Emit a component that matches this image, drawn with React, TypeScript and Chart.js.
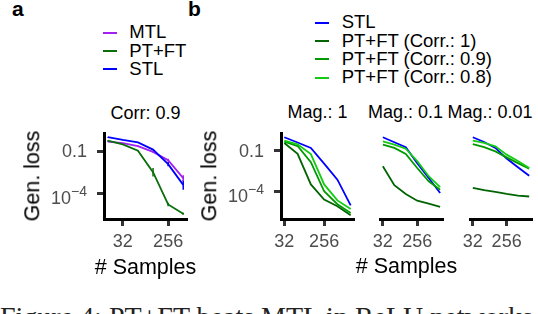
import React, { useEffect, useRef } from 'react';
import { Chart, registerables } from 'chart.js';

Chart.register(...registerables);

const SANS = '"Liberation Sans", Arial, Helvetica, sans-serif';
const SERIF = '"Liberation Serif", "Times New Roman", serif';

// ---------------- data ----------------
const SAMPLES_A = [16, 32, 64, 128, 256, 512];
const SAMPLES_B = [32, 64, 128, 256, 512, 1024];
const X_TICKS = [32, 256];
const Y_TICK_VALUES = [0.1, 1e-4];
const Y_TICK_BASE = ['0.1', '10'];
const Y_TICK_SUP = ['', '\u22124'];

// panel a (Corr: 0.9)
const A_MTL = [0.48, 0.38, 0.23, 0.089, 0.023, 0.0012];
const A_PTFT = [0.56, 0.31, 0.11, 0.0032, 1.6e-5, 3.5e-6];
const A_STL = [1.0, 0.63, 0.42, 0.13, 0.012, 0.0004];
// error bar half-widths (decades)
const A_MTL_ERR = [0.02, 0.02, 0.03, 0.05, 0.1, 0.2];
const A_PTFT_ERR = [0.02, 0.02, 0.05, 0.3, 0.12, 0.08];
const A_STL_ERR = [0.02, 0.02, 0.03, 0.05, 0.15, 0.35];

// panel b: Mag.: 1
const M1_STL = [0.98, 0.4, 0.16, 0.011, 0.00072, 9.1e-6];
const M1_C1 = [0.37, 0.058, 0.00032, 2.4e-5, 7.8e-6, 1.7e-6];
const M1_C09 = [0.46, 0.22, 0.014, 0.0001, 1.1e-5, 2.5e-6];
const M1_C08 = [0.55, 0.3, 0.056, 0.00032, 2.1e-5, 4.8e-6];
// Mag.: 0.1
const M01_STL = [0.98, 0.42, 0.18, 0.012, 0.00095, 7.4e-5];
const M01_C1 = [0.0071, 0.00028, 6.3e-5, 2.0e-5, 1.2e-5, 7.1e-6];
const M01_C09 = [0.28, 0.16, 0.058, 0.0052, 0.00055, 0.00013];
const M01_C08 = [0.49, 0.28, 0.14, 0.017, 0.0013, 0.0002];
// Mag.: 0.01
const M001_STL = [0.98, 0.44, 0.16, 0.026, 0.0059, 0.0014];
const M001_C1 = [0.00018, 0.00012, 8.9e-5, 6.3e-5, 4.8e-5, 4.1e-5];
const M001_C09 = [0.31, 0.18, 0.089, 0.032, 0.012, 0.0047];
const M001_C08 = [0.55, 0.37, 0.21, 0.051, 0.017, 0.0052];

const LEGEND_A = ['MTL', 'PT+FT', 'STL'];
const LEGEND_B = ['STL', 'PT+FT (Corr.: 1)', 'PT+FT (Corr.: 0.9)', 'PT+FT (Corr.: 0.8)'];
const TITLE_A = 'Corr: 0.9';
const TITLES_B = ['Mag.: 1', 'Mag.: 0.1', 'Mag.: 0.01'];

// ---------------- styles ----------------
const BLUE = '#0000FF';
const PURPLE = '#A020F0';
const GREEN_A = '#0A6E0A';
const C1 = '#006400';
const C09 = '#009A00';
const C08 = '#14CC14';
const COLORS_A = [PURPLE, GREEN_A, BLUE];
const COLORS_B = [BLUE, C1, C09, C08];

const A_X_RANGE = [Math.pow(2, 3.75), Math.pow(2, 9.25)];
const B_X_RANGE = [Math.pow(2, 4.75), Math.pow(2, 10.25)];
const A_Y_RANGE = [Math.pow(10, -5.83), Math.pow(10, 0.297)];
const B_Y_RANGE = [Math.pow(10, -6.05), Math.pow(10, 0.306)];

type Series = { label: string; values: number[]; color: string; errors?: number[] };
type Spec = {
  box: { left: number; top: number; width: number; height: number };
  plot: { left: number; top: number; right: number; bottom: number };
  showY: boolean;
  samples: number[];
  xRange: number[];
  yRange: number[];
  series: Series[];
};

const PANELS: Spec[] = [
  {
    box: { left: 40, top: 120, width: 160, height: 140 },
    plot: { left: 104, top: 133, right: 187, bottom: 219 },
    showY: true,
    samples: SAMPLES_A,
    xRange: A_X_RANGE,
    yRange: A_Y_RANGE,
    // drawing order: first dataset on top
    series: [
      { label: LEGEND_A[2], values: A_STL, color: COLORS_A[2], errors: A_STL_ERR },
      { label: LEGEND_A[1], values: A_PTFT, color: COLORS_A[1], errors: A_PTFT_ERR },
      { label: LEGEND_A[0], values: A_MTL, color: COLORS_A[0], errors: A_MTL_ERR },
    ],
  },
  {
    box: { left: 225, top: 120, width: 135, height: 140 },
    plot: { left: 281, top: 133, right: 354, bottom: 219 },
    showY: true,
    samples: SAMPLES_B,
    xRange: B_X_RANGE,
    yRange: B_Y_RANGE,
    series: [
      { label: LEGEND_B[3], values: M1_C08, color: COLORS_B[3] },
      { label: LEGEND_B[2], values: M1_C09, color: COLORS_B[2] },
      { label: LEGEND_B[1], values: M1_C1, color: COLORS_B[1] },
      { label: LEGEND_B[0], values: M1_STL, color: COLORS_B[0] },
    ],
  },
  {
    box: { left: 358, top: 120, width: 92, height: 140 },
    plot: { left: 369, top: 133, right: 443, bottom: 219 },
    showY: false,
    samples: SAMPLES_B,
    xRange: B_X_RANGE,
    yRange: B_Y_RANGE,
    series: [
      { label: LEGEND_B[3], values: M01_C08, color: COLORS_B[3] },
      { label: LEGEND_B[2], values: M01_C09, color: COLORS_B[2] },
      { label: LEGEND_B[1], values: M01_C1, color: COLORS_B[1] },
      { label: LEGEND_B[0], values: M01_STL, color: COLORS_B[0] },
    ],
  },
  {
    box: { left: 448, top: 120, width: 90, height: 140 },
    plot: { left: 459, top: 133, right: 532, bottom: 219 },
    showY: false,
    samples: SAMPLES_B,
    xRange: B_X_RANGE,
    yRange: B_Y_RANGE,
    series: [
      { label: LEGEND_B[3], values: M001_C08, color: COLORS_B[3] },
      { label: LEGEND_B[2], values: M001_C09, color: COLORS_B[2] },
      { label: LEGEND_B[1], values: M001_C1, color: COLORS_B[1] },
      { label: LEGEND_B[0], values: M001_STL, color: COLORS_B[0] },
    ],
  },
];

const errorBarPlugin = {
  id: 'errbars',
  afterDatasetsDraw(chart: any) {
    const { ctx } = chart;
    const xs = chart.scales.x;
    const ys = chart.scales.y;
    chart.data.datasets.forEach((ds: any) => {
      if (!ds.errors) return;
      ctx.save();
      ctx.strokeStyle = ds.borderColor;
      ctx.lineWidth = 1.5;
      ds.data.forEach((p: any, i: number) => {
        const e = ds.errors[i];
        if (!e) return;
        const px = xs.getPixelForValue(p.x);
        ctx.beginPath();
        ctx.moveTo(px, ys.getPixelForValue(p.y * Math.pow(10, e)));
        ctx.lineTo(px, ys.getPixelForValue(p.y / Math.pow(10, e)));
        ctx.stroke();
      });
      ctx.restore();
    });
  },
};

const yLabelPlugin = {
  id: 'ylabels',
  afterDraw(chart: any) {
    if (!chart.options.scales.y.display) return;
    const { ctx, chartArea } = chart;
    const ys = chart.scales.y;
    const right = chartArea.left - 17;
    ctx.save();
    ctx.fillStyle = '#4D4D4D';
    ctx.textAlign = 'right';
    Y_TICK_VALUES.forEach((v, i) => {
      const py = ys.getPixelForValue(v);
      const sup = Y_TICK_SUP[i];
      if (sup) {
        ctx.font = `14px ${SANS}`;
        ctx.textBaseline = 'alphabetic';
        const sw = ctx.measureText(sup).width;
        ctx.fillText(sup, right, py + 3);
        ctx.font = `18px ${SANS}`;
        ctx.fillText(Y_TICK_BASE[i], right - sw, py + 10.5);
      } else {
        ctx.font = `18px ${SANS}`;
        ctx.textBaseline = 'middle';
        ctx.fillText(Y_TICK_BASE[i], right, py + 1);
      }
    });
    ctx.restore();
  },
};

function buildConfig(spec: Spec): any {
  const { box, plot } = spec;
  const yW = plot.left - box.left;
  const xH = box.top + box.height - plot.bottom;
  const gridOpts = {
    drawOnChartArea: false,
    drawTicks: true,
    tickLength: 7,
    tickWidth: 3,
    tickColor: '#333333',
  };
  const borderOpts = { display: true, color: '#000000', width: 3 };
  return {
    type: 'line',
    data: {
      datasets: spec.series.map((s) => ({
        label: s.label,
        data: spec.samples.map((x, i) => ({ x, y: s.values[i] })),
        borderColor: s.color,
        backgroundColor: s.color,
        borderWidth: 1.8,
        pointRadius: 0,
        tension: 0,
        fill: false,
        errors: s.errors,
      })),
    },
    options: {
      responsive: false,
      animation: false,
      events: [],
      layout: {
        padding: {
          left: spec.showY ? 0 : plot.left - box.left,
          top: plot.top - box.top,
          right: box.left + box.width - plot.right,
          bottom: 0,
        },
      },
      plugins: {
        legend: { display: false },
        tooltip: { enabled: false },
        title: { display: false },
      },
      scales: {
        x: {
          type: 'logarithmic',
          position: 'bottom',
          min: spec.xRange[0],
          max: spec.xRange[1],
          afterBuildTicks: (s: any) => {
            s.ticks = X_TICKS.map((v) => ({ value: v }));
          },
          afterFit: (s: any) => {
            s.height = xH;
          },
          ticks: {
            callback: (v: any) => String(v),
            font: { family: SANS, size: 18 },
            color: '#4D4D4D',
            padding: 5.5,
            maxRotation: 0,
            autoSkip: false,
          },
          grid: gridOpts,
          border: borderOpts,
        },
        y: {
          type: 'logarithmic',
          display: spec.showY,
          min: spec.yRange[0],
          max: spec.yRange[1],
          afterBuildTicks: (s: any) => {
            s.ticks = Y_TICK_VALUES.map((v) => ({ value: v }));
          },
          afterFit: (s: any) => {
            s.width = yW;
          },
          ticks: { display: false },
          grid: gridOpts,
          border: borderOpts,
        },
      },
    },
    plugins: [errorBarPlugin, yLabelPlugin],
  };
}

function Panel({ spec }: { spec: Spec }) {
  const ref = useRef<HTMLCanvasElement>(null);
  useEffect(() => {
    const chart = new Chart(ref.current as HTMLCanvasElement, buildConfig(spec));
    return () => chart.destroy();
  }, [spec]);
  const { box } = spec;
  return (
    <canvas
      ref={ref}
      width={box.width}
      height={box.height}
      style={{ position: 'absolute', left: box.left, top: box.top, width: box.width, height: box.height }}
    />
  );
}

function Txt(props: {
  x: number;
  y: number;
  size: number;
  text: string;
  align?: 'left' | 'center';
  weight?: number;
  family?: string;
  rotate?: boolean;
  color?: string;
}) {
  const { x, y, size, text, align = 'left', weight = 400, family = SANS, rotate = false, color = '#000' } = props;
  const style: any = {
    position: 'absolute',
    left: x,
    top: y - size / 2,
    fontSize: size,
    lineHeight: `${size}px`,
    fontFamily: family,
    fontWeight: weight,
    color,
    whiteSpace: 'nowrap',
  };
  if (align === 'center') style.transform = 'translateX(-50%)';
  if (rotate) {
    style.top = y;
    style.transform = 'translate(-50%, -50%) rotate(-90deg)';
  }
  return <div style={style}>{text}</div>;
}

function Swatch({ x, y, color }: { x: number; y: number; color: string }) {
  return <div style={{ position: 'absolute', left: x, top: y - 1, width: 14, height: 2, background: color }} />;
}

const LEG_A_Y = [32.7, 51, 69.3];
const LEG_B_Y = [22.7, 41, 59.3, 77.7];
const TITLE_B_X = [317.5, 405.5, 490];

export default function App() {
  return (
    <div
      style={{
        position: 'fixed',
        left: 0,
        top: 0,
        width: 538,
        height: 314,
        overflow: 'hidden',
        background: '#ffffff',
      }}
    >
      <Txt x={12} y={8.7} size={21} weight={700} text="a" />
      <Txt x={188} y={8.7} size={21} weight={700} text="b" />

      {LEGEND_A.map((l, i) => (
        <React.Fragment key={l}>
          <Swatch x={103} y={LEG_A_Y[i]} color={COLORS_A[i]} />
          <Txt x={129.3} y={LEG_A_Y[i]} size={18.5} text={l} />
        </React.Fragment>
      ))}
      {LEGEND_B.map((l, i) => (
        <React.Fragment key={l}>
          <Swatch x={315} y={LEG_B_Y[i]} color={COLORS_B[i]} />
          <Txt x={341.7} y={LEG_B_Y[i]} size={18.5} text={l} />
        </React.Fragment>
      ))}

      <Txt x={145.5} y={112.5} size={18} align="center" text={TITLE_A} />
      {TITLES_B.map((t, i) => (
        <Txt key={t} x={TITLE_B_X[i]} y={112} size={18} align="center" text={t} />
      ))}

      {PANELS.map((p, i) => (
        <Panel key={i} spec={p} />
      ))}

      <Txt x={33} y={176} size={21.5} rotate text="Gen. loss" />
      <Txt x={210} y={176} size={21.5} rotate text="Gen. loss" />
      <Txt x={145.5} y={268} size={21.5} align="center" text="# Samples" />
      <Txt x={406.5} y={267} size={21.5} align="center" text="# Samples" />

      <div
        style={{
          position: 'absolute',
          left: 0,
          top: 302.5,
          fontFamily: SERIF,
          fontSize: 28,
          lineHeight: '28px',
          color: '#222',
          whiteSpace: 'nowrap',
        }}
      >
        Figure 4: PT+FT beats MTL in ReLU networks
      </div>
    </div>
  );
}
